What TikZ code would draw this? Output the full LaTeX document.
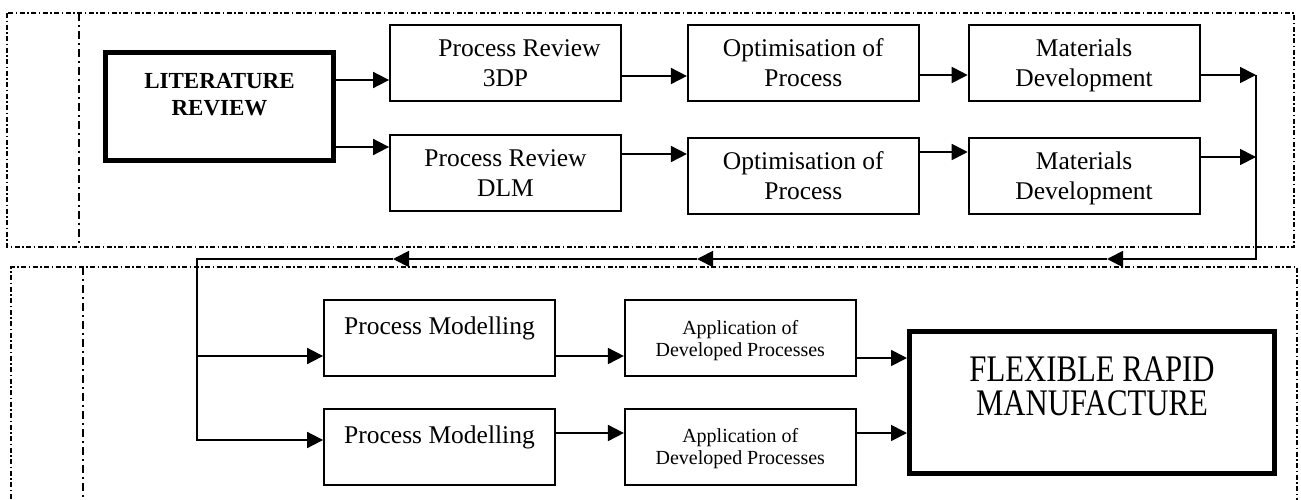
\documentclass[tikz,border=0pt]{standalone}
\usepackage{fontspec}
\setmainfont{Liberation Serif}
\newfontfamily\narrowserif{Liberation Serif}[FakeStretch=0.82]
\usepackage{tikz}
\usetikzlibrary{arrows.meta,positioning}
\tikzset{
  stage/.style={draw=black,line width=1.8pt,minimum width=231pt,minimum height=76pt,
                inner sep=0pt,align=center,text depth=0pt,font=\fontsize{25.5}{30}\selectfont},
  appstage/.style={stage,font=\fontsize{20}{22}\selectfont},
  goal/.style={draw=black,line width=5pt,inner sep=0pt},
  tag/.style={inner sep=0pt,anchor=north,align=center},
  frame/.style={-,line width=1.1pt,dash pattern=on 5pt off 2.5pt on 1.5pt off 2.5pt},
  divider/.style={-,line width=2pt,dash pattern=on 8pt off 4pt on 2pt off 4pt}
}

\begin{document}
\begin{tikzpicture}[x=1pt,y=-1pt,->,>={Triangle[length=16pt,width=16pt]},
                    line width=1.8pt]
  \useasboundingbox (0,0) rectangle (1301,499);

  % the two stages of the work
  \draw[frame] (7,13) rectangle (1294,247);
  \draw[frame] (11,510) -- (11,267) -- (1297,267) -- (1297,510);
  \draw[divider] (79,13) -- (79,247);
  \draw[divider] (83,267) -- (83,510);

  \node[goal,minimum width=228pt,minimum height=108pt] (lit) at (219.5,106.5) {};
  \node[tag,font=\bfseries\fontsize{23}{27}\selectfont] (littext)
       at ([yshift=-22pt]lit.north) {LITERATURE\\REVIEW};

  \node[stage] (pr1) at (505.5,63)           {\hspace*{28pt}Process Review\\3DP};
  \node[stage] (opt1) [right=65pt of pr1]    {Optimisation of\\Process};
  \node[stage] (mat1) [right=48pt of opt1]   {Materials\\Development};
  \node[stage] (pr2) [below=32pt of pr1]     {Process Review\\DLM};
  \node[stage] (opt2) [right=65pt of pr2,yshift=-3pt] {Optimisation of\\Process};
  \node[stage] (mat2) [right=48pt of opt2]   {Materials\\Development};

  \node[stage] (pm1) at (439.5,338) {};
  \node[tag,font=\fontsize{25.5}{30}\selectfont] (pm1text)
       at ([yshift=-17pt]pm1.north) {Process Modelling};
  \node[appstage] (app1) [right=68pt of pm1] {Application of\\Developed Processes};
  \node[stage] (pm2) [below=31pt of pm1] {};
  \node[tag,font=\fontsize{25.5}{30}\selectfont] (pm2text)
       at ([yshift=-17pt]pm2.north) {Process Modelling};
  \node[appstage] (app2) [right=68pt of pm2] {Application of\\Developed Processes};

  \node[goal,minimum width=365pt,minimum height=142pt] (frm) at (1092,402.5) {};
  \node[tag,font=\narrowserif\fontsize{37.5}{34}\selectfont] (frmtext)
       at ([yshift=-27pt]frm.north) {FLEXIBLE RAPID\\MANUFACTURE};

  % return path
  \coordinate (join) at (1256,75);
  \coordinate (turn) at (1256,259);
  \coordinate (ret1) at (1107,259);
  \coordinate (ret2) at (697,259);
  \coordinate (ret3) at (393,259);
  \coordinate (bend) at (197,259);
  \coordinate (split) at (197,356);

  \draw (lit.east |- 0,80)   -- (pr1.west |- 0,80);
  \draw (lit.east |- 0,147)  -- (pr2.west |- 0,147);
  \draw (pr1.east |- 0,76)   -- (opt1.west |- 0,76);
  \draw (pr2.east |- 0,154)  -- (opt2.west |- 0,154);
  \draw (opt1.east |- 0,75)  -- (mat1.west |- 0,75);
  \draw (opt2.east |- 0,152) -- (mat2.west |- 0,152);
  \draw (mat1.east |- 0,75)  -- (join);
  \draw (mat2.east |- 0,157) -- (join |- 0,157);

  \draw (join) -- (turn) -- (ret1);
  \draw (ret1) -- (ret2);
  \draw (ret2) -- (ret3);
  \draw (ret3) -- (bend) |- (pm2.west |- 0,440);
  \draw (split) -- (pm1.west |- split);

  \draw (pm1.east |- 0,356)  -- (app1.west |- 0,356);
  \draw (pm2.east |- 0,433)  -- (app2.west |- 0,433);
  \draw (app1.east |- 0,358) -- (frm.west |- 0,358);
  \draw (app2.east |- 0,433) -- (frm.west |- 0,433);
\end{tikzpicture}
\end{document}
